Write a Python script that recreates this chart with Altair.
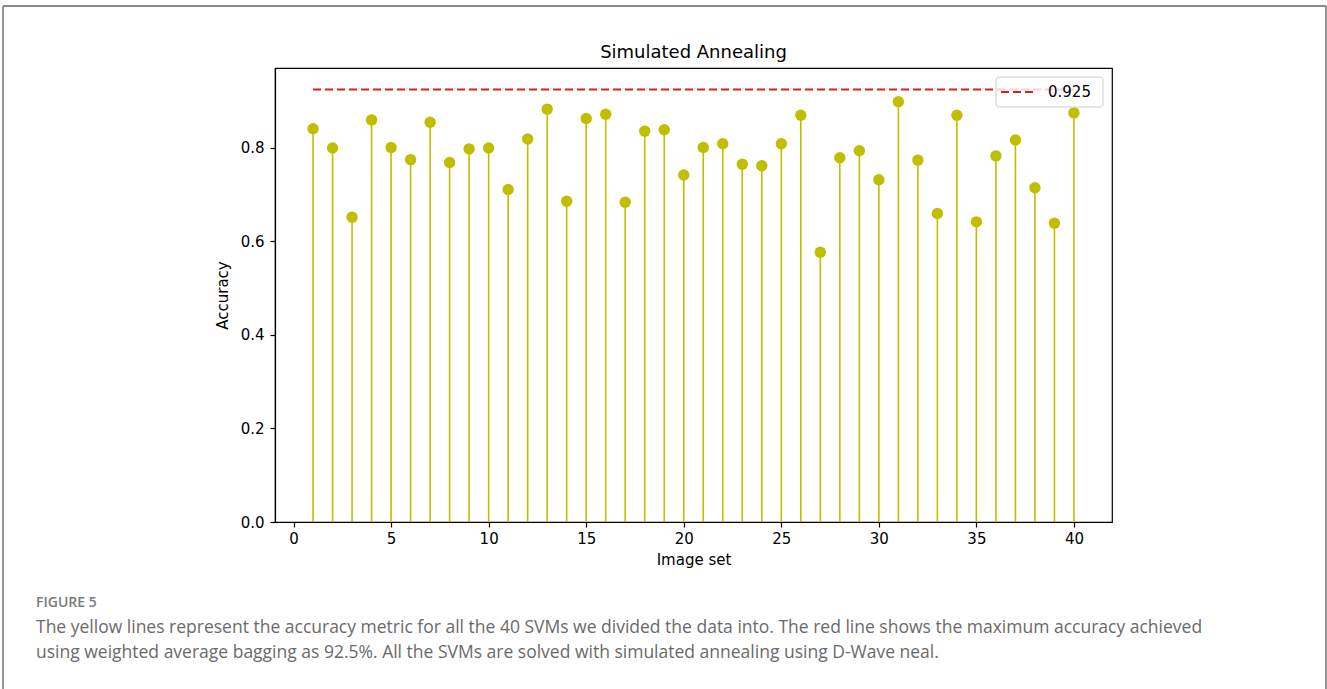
import altair as alt
import pandas as pd

# Accuracy of each of the 40 SVMs (one per image set)
image_set = list(range(1, 41))
accuracy = [
    0.841, 0.800, 0.652, 0.860, 0.801, 0.775, 0.855, 0.769, 0.798, 0.800,
    0.711, 0.819, 0.883, 0.686, 0.863, 0.872, 0.684, 0.836, 0.839, 0.742,
    0.801, 0.809, 0.765, 0.762, 0.809, 0.870, 0.577, 0.779, 0.794, 0.732,
    0.899, 0.774, 0.660, 0.870, 0.642, 0.783, 0.817, 0.715, 0.639, 0.875,
]
# Weighted-average bagging accuracy
bagging_accuracy = 0.925

x_ticks = [0, 5, 10, 15, 20, 25, 30, 35, 40]
y_ticks = [0.0, 0.2, 0.4, 0.6, 0.8]

plot_title = "Simulated Annealing"
caption_head = "FIGURE 5"
caption_lines = [
    "The yellow lines represent the accuracy metric for all the 40 SVMs we divided the data into. The red line shows the maximum accuracy achieved",
    "using weighted average bagging as 92.5%. All the SVMs are solved with simulated annealing using D-Wave neal.",
]

W, H = 837, 454
LEFT, TOP = 275, 68
FONT = "DejaVu Sans"
STEM = "#bfbf00"
RED = "#dc1e1e"

df = pd.DataFrame({"set": image_set, "acc": accuracy, "zero": 0.0})
xs = alt.Scale(domain=[-0.95, 41.95], nice=False, zero=False)
ys = alt.Scale(domain=[0, 0.971], nice=False)

x_axis = alt.Axis(values=x_ticks, title="Image set", format="d", titlePadding=6)
y_axis = alt.Axis(values=y_ticks, title="Accuracy", format=".1f", titlePadding=10)

stems = alt.Chart(df).mark_rule(color=STEM, strokeWidth=1.6).encode(
    x=alt.X("set:Q", scale=xs, axis=x_axis),
    y=alt.Y("zero:Q", scale=ys, axis=y_axis),
    y2="acc:Q",
)
heads = alt.Chart(df).mark_circle(color=STEM, opacity=1, size=130).encode(
    x=alt.X("set:Q", scale=xs),
    y=alt.Y("acc:Q", scale=ys),
)

best = pd.DataFrame({"x1": [image_set[0]], "x2": [image_set[-1]], "y": [bagging_accuracy]})
best_line = alt.Chart(best).mark_rule(color=RED, strokeWidth=2, strokeDash=[8, 4]).encode(
    x=alt.X("x1:Q", scale=xs), x2="x2:Q", y=alt.Y("y:Q", scale=ys)
)

# Legend box in the upper-right corner of the axes
one = pd.DataFrame({"label": [f"{bagging_accuracy:.3f}"]})
legend_box = alt.Chart(one).mark_rect(
    fill="white", fillOpacity=0.8, stroke="#cccccc", strokeWidth=1, cornerRadius=3
).encode(x=alt.value(W - 116), x2=alt.value(W - 9), y=alt.value(9), y2=alt.value(39))
legend_line = alt.Chart(one).mark_rule(color=RED, strokeWidth=2, strokeDash=[8, 4]).encode(
    x=alt.value(W - 111), x2=alt.value(W - 75), y=alt.value(24)
)
legend_text = alt.Chart(one).mark_text(
    font=FONT, fontSize=15, align="left", baseline="middle", color="black"
).encode(x=alt.value(W - 64), y=alt.value(24), text="label:N")

# Plot title, centred over the axes
title = alt.Chart(pd.DataFrame({"t": [plot_title]})).mark_text(
    font=FONT, fontSize=18, align="center", baseline="alphabetic", color="black"
).encode(x=alt.value(W / 2), y=alt.value(58 - TOP), text="t:N")


def text_line(txt, y, size, color, weight="normal"):
    return alt.Chart(pd.DataFrame({"t": [txt]})).mark_text(
        font="Open Sans", fontSize=size, fontWeight=weight, align="left",
        baseline="middle", color=color,
    ).encode(x=alt.value(36 - LEFT), y=alt.value(y - TOP), text="t:N")


# Caption below the figure
head = text_line(caption_head, 603, 14, "#7a7a7a", 600)
cap1 = text_line(caption_lines[0], 628, 17.5, "#6a6a6a")
cap2 = text_line(caption_lines[1], 653, 17.5, "#6a6a6a")

# Page frame
FRAME = "#8a8a8a"
frame_top = alt.Chart(one).mark_rule(color=FRAME, strokeWidth=1.8).encode(
    x=alt.value(3 - LEFT), x2=alt.value(1326 - LEFT), y=alt.value(6 - TOP)
)
frame_left = alt.Chart(one).mark_rule(color=FRAME, strokeWidth=1.8).encode(
    x=alt.value(3 - LEFT), y=alt.value(6 - TOP), y2=alt.value(689 - TOP)
)
frame_right = alt.Chart(one).mark_rule(color=FRAME, strokeWidth=1.8).encode(
    x=alt.value(1326 - LEFT), y=alt.value(6 - TOP), y2=alt.value(689 - TOP)
)

chart = alt.layer(
    stems, heads, best_line, legend_box, legend_line, legend_text, title,
    head, cap1, cap2, frame_top, frame_left, frame_right,
).properties(
    width=W,
    height=H,
    padding={"left": LEFT, "top": TOP, "right": 1327 - LEFT - W, "bottom": 689 - TOP - H},
    autosize=alt.AutoSizeParams(type="none"),
).configure_view(
    stroke="black", strokeWidth=1.2
).configure_axis(
    grid=False, domainColor="black", domainWidth=1.2, tickColor="black", tickSize=5,
    tickWidth=1.2, labelColor="black", labelFont=FONT, labelFontSize=15, labelPadding=4,
    titleFont=FONT, titleFontSize=15, titleFontWeight="normal", titleColor="black",
).configure_axisY(labelPadding=6)

chart.save("out.html", embed_options={"renderer": "svg", "actions": False})
